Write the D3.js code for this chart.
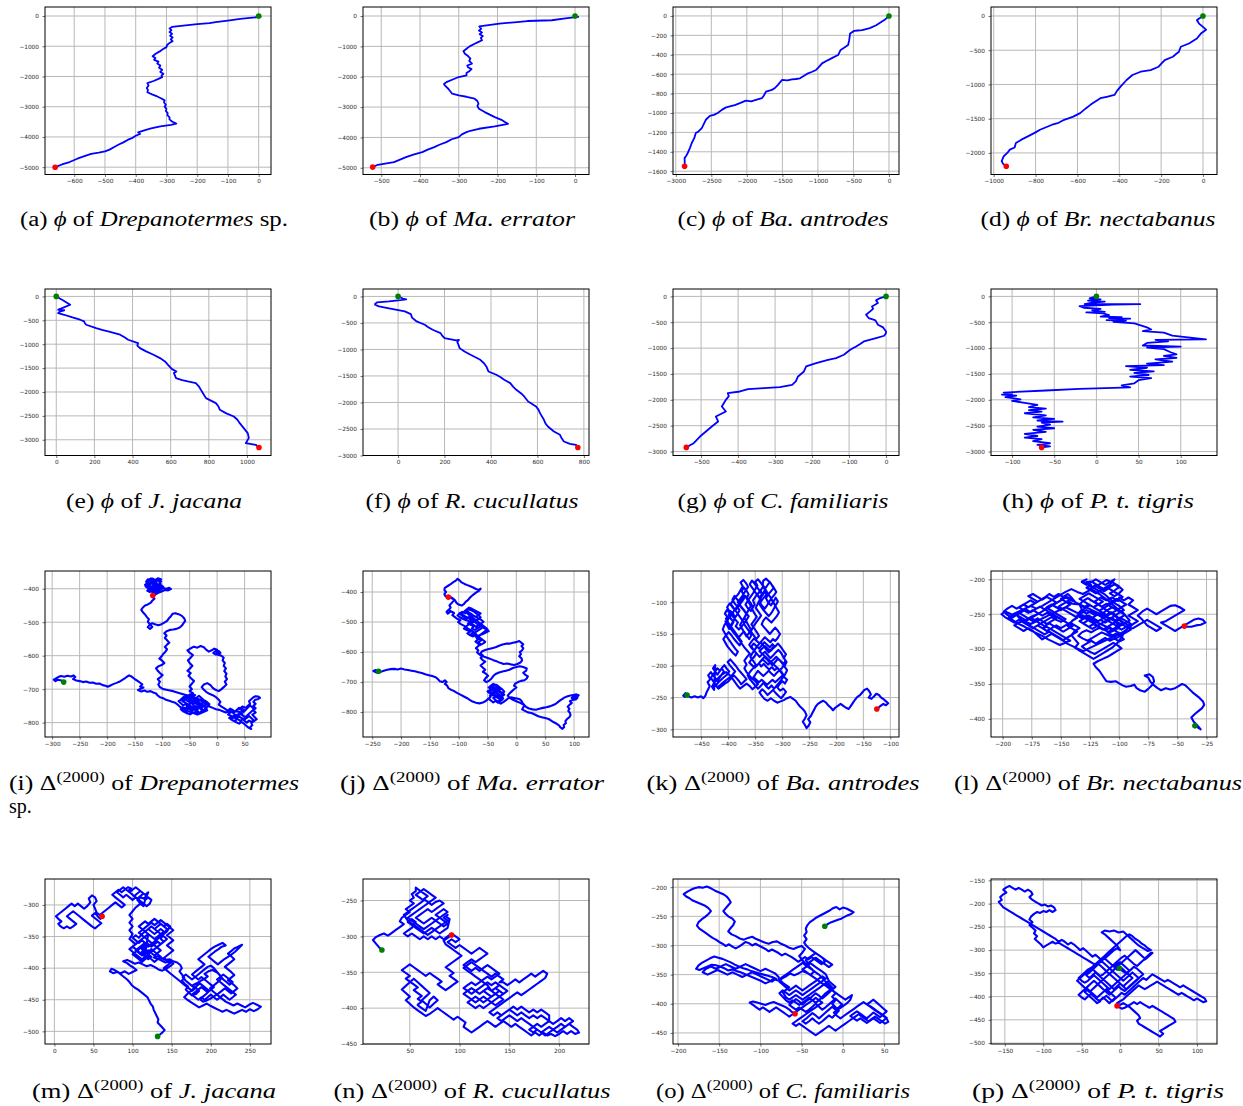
<!DOCTYPE html>
<html>
<head>
<meta charset="utf-8">
<script src="https://cdn.jsdelivr.net/npm/d3@7"></script>
<style>
  body { margin: 0; background: #fff; }
  svg { display: block; }
</style>
</head>
<body>
<svg id="fig" width="1243" height="1106"></svg>
<script>
// ---------------------------------------------------------------
// Trajectories: phi (cumulative walk) and Delta(2000) (windowed walk)
// for eight species. Each track is a list of [x, y] points.
// ---------------------------------------------------------------
const panelIds = ["a","b","c","d","e","f","g","h","i","j","k","l","m","n","o","p"];
const speciesNames = ["Drepanotermes", "Ma. errator", "Ba. antrodes", "Br. nectabanus",
                      "J. jacana", "R. cucullatus", "C. familiaris", "P. t. tigris"];
const speciesSuffix = [" sp.", "", "", "", "", "", "", ""];

// phi tracks
const trackA = [[0,0],[6,-25],[-20,-55],[-60,-95],[-100,-150],[-140,-200],[-160,-235],[-200,-270],[-245,-315],[-282,-360],[-290,-410],[-284,-470],[-290,-530],[-282,-590],[-288,-650],[-280,-710],[-286,-770],[-280,-830],[-290,-890],[-298,-960],[-300,-1030],[-312,-1100],[-322,-1170],[-335,-1250],[-345,-1330],[-336,-1390],[-340,-1450],[-326,-1510],[-330,-1570],[-320,-1640],[-324,-1710],[-314,-1780],[-320,-1850],[-310,-1910],[-316,-1970],[-314,-2020],[-326,-2080],[-342,-2150],[-362,-2220],[-358,-2300],[-364,-2380],[-360,-2450],[-362,-2520],[-345,-2600],[-330,-2660],[-318,-2720],[-306,-2790],[-308,-2860],[-302,-2930],[-306,-3000],[-300,-3070],[-302,-3140],[-296,-3210],[-297,-3280],[-290,-3350],[-290,-3420],[-282,-3490],[-268,-3560],[-285,-3600],[-320,-3650],[-350,-3720],[-372,-3780],[-392,-3850],[-386,-3900],[-400,-3960],[-410,-4030],[-425,-4090],[-440,-4180],[-455,-4250],[-470,-4330],[-485,-4420],[-500,-4480],[-520,-4520],[-545,-4560],[-562,-4620],[-590,-4720],[-615,-4830],[-640,-4910],[-662,-5000]];
const trackB = [[0,0],[8,-30],[-20,-70],[-60,-140],[-123,-165],[-150,-200],[-195,-250],[-247,-340],[-242,-420],[-248,-480],[-240,-540],[-246,-600],[-238,-660],[-243,-720],[-240,-800],[-250,-860],[-259,-912],[-272,-1000],[-280,-1077],[-288,-1160],[-284,-1242],[-276,-1320],[-270,-1406],[-273,-1480],[-266,-1571],[-278,-1630],[-276,-1690],[-267,-1750],[-272,-1810],[-280,-1880],[-280,-1956],[-300,-2010],[-311,-2066],[-332,-2176],[-338,-2240],[-336,-2286],[-327,-2396],[-322,-2480],[-317,-2560],[-300,-2615],[-280,-2660],[-259,-2725],[-252,-2800],[-249,-2890],[-252,-2960],[-248,-3055],[-233,-3165],[-220,-3250],[-207,-3330],[-190,-3420],[-181,-3495],[-173,-3550],[-207,-3637],[-248,-3714],[-270,-3780],[-280,-3824],[-292,-3900],[-300,-3989],[-318,-4060],[-332,-4154],[-350,-4240],[-363,-4319],[-380,-4400],[-394,-4484],[-415,-4560],[-436,-4648],[-450,-4720],[-467,-4813],[-490,-4860],[-509,-4901],[-522,-4978]];
const trackC = [[0,0],[-60,-40],[-180,-96],[-270,-125],[-378,-147],[-440,-150],[-490,-154],[-547,-181],[-560,-250],[-575,-300],[-632,-328],[-680,-350],[-716,-403],[-790,-430],[-857,-455],[-942,-489],[-990,-530],[-1026,-557],[-1080,-575],[-1139,-591],[-1200,-620],[-1252,-643],[-1310,-650],[-1365,-653],[-1430,-665],[-1506,-660],[-1562,-711],[-1600,-740],[-1647,-762],[-1731,-780],[-1760,-820],[-1788,-848],[-1872,-865],[-1940,-880],[-2013,-872],[-2098,-899],[-2170,-920],[-2239,-933],[-2300,-945],[-2352,-968],[-2410,-1000],[-2464,-1019],[-2520,-1029],[-2577,-1070],[-2610,-1120],[-2634,-1156],[-2680,-1190],[-2718,-1207],[-2740,-1260],[-2775,-1309],[-2800,-1360],[-2831,-1412],[-2860,-1450],[-2876,-1463],[-2874,-1510],[-2876,-1549]];
const trackD = [[0,0],[-20,-40],[-29,-63],[-19,-111],[0,-160],[15,-200],[-10,-257],[-29,-329],[-50,-370],[-67,-402],[-106,-450],[-115,-523],[-130,-560],[-144,-596],[-183,-644],[-200,-700],[-212,-741],[-250,-790],[-298,-814],[-337,-862],[-365,-935],[-394,-1031],[-410,-1090],[-423,-1153],[-460,-1180],[-490,-1201],[-520,-1260],[-538,-1298],[-560,-1350],[-587,-1419],[-620,-1470],[-663,-1516],[-690,-1560],[-721,-1588],[-779,-1661],[-800,-1700],[-837,-1758],[-870,-1810],[-894,-1855],[-900,-1920],[-923,-1952],[-935,-2000],[-952,-2048],[-962,-2120],[-955,-2160],[-940,-2194]];
const trackE = [[0,0],[35,-80],[73,-174],[40,-230],[10,-279],[42,-290],[18,-320],[10,-349],[42,-384],[85,-440],[125,-488],[146,-523],[150,-560],[157,-593],[209,-663],[240,-700],[272,-733],[335,-802],[360,-860],[377,-907],[429,-977],[425,-1030],[439,-1082],[471,-1151],[510,-1220],[544,-1291],[570,-1360],[586,-1431],[607,-1521],[630,-1570],[617,-1605],[628,-1710],[660,-1750],[690,-1780],[732,-1814],[745,-1870],[753,-1919],[770,-2030],[785,-2128],[837,-2233],[850,-2300],[858,-2373],[889,-2442],[931,-2512],[950,-2580],[962,-2652],[983,-2756],[1004,-2861],[1010,-2960],[994,-3070],[1046,-3105],[1063,-3161]];
const trackF = [[0,0],[20,-40],[35,-55],[10,-70],[-39,-94],[-91,-113],[-99,-140],[-99,-157],[-82,-189],[-50,-215],[-22,-239],[29,-283],[55,-333],[60,-400],[80,-472],[115,-535],[130,-580],[149,-629],[183,-692],[190,-740],[200,-786],[250,-830],[262,-820],[255,-860],[259,-900],[265,-975],[286,-1038],[312,-1101],[354,-1195],[370,-1260],[380,-1321],[389,-1415],[423,-1478],[440,-1520],[457,-1572],[483,-1635],[495,-1700],[509,-1761],[530,-1830],[543,-1887],[560,-1981],[594,-2075],[605,-2140],[611,-2201],[628,-2327],[635,-2400],[645,-2453],[671,-2547],[697,-2610],[705,-2680],[714,-2736],[740,-2780],[766,-2799],[774,-2849]];
const trackG = [[0,0],[-16,-32],[-27,-77],[-22,-129],[-38,-194],[-35,-240],[-43,-290],[-54,-355],[-47,-419],[-30,-460],[-27,-484],[-22,-548],[-8,-600],[-5,-632],[0,-680],[0,-710],[-5,-761],[-27,-806],[-60,-871],[-70,-920],[-81,-968],[-97,-1032],[-114,-1129],[-135,-1194],[-157,-1226],[-189,-1290],[-216,-1355],[-222,-1452],[-238,-1548],[-244,-1645],[-254,-1710],[-287,-1755],[-330,-1774],[-373,-1794],[-395,-1839],[-428,-1871],[-425,-1930],[-433,-2000],[-444,-2129],[-433,-2226],[-460,-2323],[-454,-2419],[-471,-2516],[-487,-2613],[-503,-2710],[-520,-2839],[-530,-2880],[-540,-2920]];
const trackH = [[0,0],[-8,-40],[5,-60],[-10,-80],[10,-100],[-5,-120],[-14,-150],[52,-150],[20,-160],[-20,-190],[-15,-220],[5,-240],[-5,-270],[10,-300],[-12,-310],[8,-330],[15,-360],[5,-390],[30,-400],[15,-420],[40,-430],[12,-460],[35,-470],[20,-490],[45,-520],[60,-600],[65,-640],[55,-670],[80,-700],[90,-760],[130,-830],[70,-840],[85,-870],[60,-900],[55,-950],[100,-970],[60,-990],[80,-1020],[88,-1080],[95,-1120],[80,-1150],[95,-1190],[70,-1220],[90,-1260],[60,-1300],[80,-1330],[35,-1350],[60,-1380],[40,-1420],[68,-1450],[45,-1480],[62,-1520],[40,-1550],[65,-1580],[50,-1620],[45,-1680],[30,-1720],[40,-1760],[-20,-1790],[-60,-1820],[-110,-1860],[-100,-1880],[-112,-1900],[-95,-1920],[-108,-1950],[-90,-1990],[-100,-2020],[-85,-2060],[-70,-2100],[-80,-2140],[-60,-2170],[-80,-2200],[-65,-2230],[-85,-2260],[-60,-2300],[-75,-2340],[-50,-2370],[-70,-2400],[-40,-2420],[-65,-2440],[-55,-2480],[-70,-2520],[-50,-2550],[-75,-2580],[-60,-2620],[-85,-2660],[-70,-2700],[-85,-2730],[-65,-2760],[-75,-2800],[-55,-2840],[-70,-2870],[-55,-2900],[-65,-2920]];

// Delta(2000) tracks
const trackI = [[-279,-679],[-283,-674],[-290,-672],[-294,-676],[-297,-672],[-293,-668],[-289,-664],[-284,-661],[-278,-663],[-272,-660],[-266,-662],[-261,-659],[-258,-664],[-262,-670],[-256,-674],[-250,-676],[-244,-679],[-238,-677],[-232,-681],[-226,-680],[-220,-684],[-214,-683],[-208,-688],[-203,-690],[-199,-693],[-194,-689],[-189,-685],[-184,-682],[-178,-678],[-173,-673],[-168,-668],[-164,-663],[-160,-659],[-156,-662],[-152,-667],[-148,-672],[-144,-676],[-140,-681],[-136,-686],[-140,-692],[-134,-695],[-139,-699],[-144,-703],[-138,-707],[-132,-704],[-127,-708],[-121,-706],[-116,-710],[-111,-713],[-108,-719],[-104,-724],[-98,-727],[-93,-732],[-87,-735],[-82,-738],[-76,-741],[-72,-746],[-68,-752],[-62,-758],[-57,-764],[-52,-758],[-47,-762],[-44,-770],[-49,-775],[-55,-772],[-60,-767],[-56,-760],[-50,-754],[-44,-750],[-39,-756],[-35,-762],[-40,-768],[-35,-773],[-30,-768],[-26,-762],[-30,-756],[-25,-750],[-20,-746],[-24,-740],[-30,-744],[-36,-740],[-42,-736],[-47,-742],[-53,-746],[-58,-740],[-63,-736],[-60,-730],[-54,-726],[-48,-730],[-43,-725],[-38,-728],[-33,-733],[-28,-730],[-23,-734],[-18,-739],[-14,-745],[-17,-752],[-22,-757],[-18,-763],[-24,-768],[-30,-772],[-36,-776],[-42,-772],[-38,-764],[-44,-758],[-50,-748],[-54,-752],[-58,-757],[-63,-754],[-66,-760],[-62,-766],[-57,-770],[-53,-765],[-48,-768],[-44,-763],[-40,-758],[-36,-766],[-32,-771],[-27,-767],[-23,-761],[-19,-757],[-22,-751],[-27,-746],[-31,-751],[-35,-746],[-39,-741],[-44,-745],[-49,-740],[-54,-735],[-58,-730],[-62,-736],[-66,-731],[-62,-725],[-57,-720],[-53,-725],[-49,-731],[-45,-736],[-41,-731],[-37,-725],[-33,-720],[-29,-726],[-25,-732],[-21,-737],[-17,-743],[-21,-748],[-26,-753],[-30,-759],[-35,-754],[-40,-750],[-45,-755],[-50,-760],[-54,-756],[-56,-744],[-62,-748],[-66,-742],[-70,-736],[-64,-730],[-58,-724],[-52,-718],[-46,-714],[-40,-718],[-46,-722],[-52,-730],[-46,-736],[-40,-742],[-34,-748],[-28,-752],[-32,-740],[-38,-734],[-44,-728],[-48,-720],[-44,-712],[-50,-706],[-46,-700],[-50,-692],[-46,-684],[-42,-676],[-47,-668],[-52,-660],[-48,-652],[-54,-645],[-49,-638],[-45,-630],[-50,-622],[-53,-614],[-48,-606],[-44,-598],[-50,-591],[-54,-584],[-48,-578],[-42,-573],[-36,-576],[-30,-571],[-24,-575],[-20,-582],[-15,-588],[-10,-584],[-5,-579],[0,-582],[-3,-588],[2,-592],[-2,-597],[-7,-592],[-3,-586],[3,-586],[6,-592],[2,-598],[8,-600],[12,-606],[10,-614],[14,-622],[12,-630],[16,-638],[13,-646],[17,-654],[15,-662],[18,-670],[14,-678],[17,-686],[12,-694],[8,-700],[3,-706],[-3,-702],[-8,-696],[-12,-688],[-18,-682],[-24,-686],[-28,-694],[-24,-702],[-20,-708],[-14,-714],[-8,-718],[-2,-724],[2,-730],[6,-738],[3,-746],[8,-752],[14,-758],[19,-764],[24,-770],[20,-776],[26,-780],[31,-786],[36,-790],[32,-796],[27,-792],[22,-786],[28,-782],[34,-778],[40,-774],[44,-768],[48,-762],[44,-756],[40,-760],[46,-752],[52,-756],[56,-750],[60,-744],[58,-736],[62,-730],[66,-724],[70,-721],[75,-722],[78,-726],[74,-730],[69,-732],[66,-738],[70,-744],[66,-750],[70,-757],[66,-763],[70,-770],[64,-776],[68,-783],[72,-790],[67,-796],[62,-800],[64,-808],[60,-814],[62,-819],[56,-814],[52,-808],[48,-802],[44,-798],[40,-803],[35,-799],[30,-794],[25,-790],[30,-784],[36,-786],[40,-782],[44,-786],[50,-790],[54,-786],[58,-780],[62,-786],[66,-792],[63,-798],[58,-794],[54,-800],[50,-795],[46,-790],[42,-795],[38,-790],[34,-784],[38,-778],[43,-774],[47,-779],[51,-784],[55,-778],[59,-772],[63,-766],[67,-760],[64,-754],[60,-749],[56,-755],[52,-762],[48,-768],[44,-762],[40,-756],[36,-762],[32,-768],[28,-762],[24,-758],[20,-763],[26,-767],[30,-773],[34,-779],[40,-776],[46,-774],[40,-768],[34,-766],[28,-770],[22,-766],[16,-770],[10,-766],[4,-762],[-2,-760],[-8,-756],[-14,-752],[-18,-746],[-24,-740],[-30,-734],[-36,-728],[-44,-724],[-52,-720],[-60,-716],[-68,-712],[-74,-709],[-80,-706],[-86,-704],[-92,-702],[-98,-700],[-104,-694],[-107,-686],[-104,-678],[-108,-670],[-103,-664],[-99,-658],[-104,-652],[-108,-645],[-111,-638],[-107,-632],[-101,-628],[-96,-622],[-100,-615],[-105,-609],[-101,-602],[-98,-595],[-94,-588],[-91,-581],[-95,-574],[-91,-567],[-87,-561],[-91,-554],[-95,-547],[-92,-540],[-96,-533],[-92,-527],[-86,-523],[-80,-522],[-74,-520],[-68,-516],[-64,-510],[-61,-503],[-58,-496],[-60,-488],[-64,-481],[-70,-476],[-76,-473],[-81,-475],[-84,-482],[-88,-489],[-91,-496],[-96,-501],[-101,-506],[-107,-509],[-113,-506],[-118,-503],[-123,-508],[-126,-515],[-122,-520],[-118,-514],[-122,-506],[-126,-499],[-124,-491],[-128,-484],[-131,-477],[-135,-470],[-138,-463],[-135,-456],[-131,-450],[-126,-447],[-121,-442],[-118,-436],[-114,-430],[-118,-424],[-114,-418],[-110,-412],[-118,-404],[-122,-410],[-127,-406],[-124,-399],[-129,-395],[-131,-388],[-127,-383],[-123,-389],[-119,-394],[-115,-389],[-118,-382],[-114,-377],[-110,-383],[-107,-390],[-103,-384],[-106,-378],[-102,-372],[-108,-369],[-113,-374],[-117,-370],[-121,-376],[-126,-372],[-129,-379],[-125,-385],[-121,-381],[-117,-386],[-112,-392],[-108,-398],[-113,-402],[-117,-397],[-122,-393],[-126,-398],[-122,-404],[-118,-410],[-113,-413],[-109,-407],[-104,-403],[-100,-397],[-104,-392],[-109,-387],[-113,-381],[-117,-377],[-121,-371],[-125,-377],[-128,-383],[-124,-390],[-120,-396],[-116,-401],[-112,-406],[-115,-407],[-120,-402],[-125,-398],[-130,-393],[-127,-386],[-129,-379],[-125,-373],[-120,-369],[-115,-372],[-110,-377],[-106,-373],[-102,-378],[-105,-385],[-109,-390],[-113,-386],[-118,-382],[-122,-387],[-126,-392],[-122,-398],[-116,-394],[-111,-398],[-106,-394],[-102,-389],[-98,-394],[-101,-401],[-106,-405],[-111,-402],[-116,-398],[-121,-392],[-124,-385],[-120,-378],[-116,-382],[-112,-388],[-108,-396],[-104,-400],[-98,-398],[-92,-400],[-87,-397],[-84,-401],[-89,-405],[-95,-404],[-101,-408],[-107,-412],[-112,-417],[-117,-420]];
const trackJ = [[-239,-664],[-244,-660],[-248,-663],[-244,-667],[-240,-670],[-235,-666],[-230,-662],[-224,-659],[-218,-657],[-212,-656],[-206,-658],[-200,-655],[-194,-658],[-188,-660],[-182,-662],[-176,-664],[-170,-667],[-164,-670],[-158,-674],[-152,-677],[-146,-680],[-140,-684],[-136,-690],[-133,-697],[-128,-700],[-124,-694],[-121,-700],[-124,-706],[-120,-712],[-118,-720],[-113,-726],[-108,-730],[-103,-736],[-97,-742],[-91,-748],[-86,-753],[-81,-759],[-76,-765],[-70,-769],[-64,-771],[-58,-768],[-53,-763],[-49,-756],[-45,-750],[-48,-756],[-44,-762],[-40,-768],[-36,-763],[-32,-769],[-28,-764],[-24,-758],[-28,-752],[-33,-747],[-38,-742],[-43,-736],[-47,-730],[-43,-724],[-38,-719],[-33,-724],[-29,-730],[-25,-736],[-21,-742],[-25,-748],[-30,-742],[-35,-736],[-40,-730],[-44,-724],[-48,-718],[-44,-712],[-40,-706],[-36,-712],[-32,-718],[-28,-724],[-32,-730],[-37,-735],[-42,-740],[-46,-746],[-41,-744],[-46,-738],[-50,-731],[-45,-725],[-40,-730],[-36,-736],[-31,-741],[-35,-748],[-40,-753],[-36,-760],[-31,-766],[-27,-760],[-23,-754],[-27,-747],[-23,-740],[-27,-733],[-32,-727],[-37,-721],[-42,-716],[-38,-710],[-33,-714],[-28,-719],[-24,-725],[-21,-732],[-25,-738],[-30,-733],[-35,-727],[-40,-722],[-45,-715],[-40,-707],[-34,-710],[-30,-716],[-34,-724],[-39,-732],[-43,-740],[-38,-746],[-33,-752],[-28,-758],[-32,-766],[-27,-772],[-22,-766],[-18,-760],[-14,-754],[-9,-751],[-4,-753],[1,-755],[6,-757],[9,-763],[11,-770],[14,-777],[17,-783],[22,-788],[28,-791],[34,-792],[40,-789],[46,-786],[52,-784],[58,-781],[63,-777],[68,-773],[72,-767],[76,-761],[80,-756],[84,-751],[89,-747],[94,-745],[99,-743],[104,-741],[108,-744],[105,-750],[100,-748],[96,-753],[101,-756],[106,-752],[103,-758],[97,-760],[93,-764],[96,-770],[92,-776],[89,-782],[92,-789],[90,-796],[93,-803],[94,-810],[92,-817],[88,-823],[85,-830],[86,-837],[82,-843],[83,-850],[80,-856],[76,-850],[74,-844],[70,-839],[65,-834],[61,-829],[56,-823],[50,-820],[44,-817],[38,-814],[32,-808],[26,-803],[20,-801],[15,-796],[10,-791],[12,-784],[14,-777],[9,-772],[4,-767],[-2,-762],[-7,-758],[-12,-752],[-15,-745],[-12,-738],[-8,-731],[-4,-724],[0,-718],[-4,-712],[-2,-705],[3,-700],[8,-696],[14,-694],[18,-688],[20,-681],[15,-675],[12,-669],[17,-662],[18,-655],[12,-650],[6,-647],[0,-650],[-6,-653],[-12,-659],[-18,-662],[-24,-665],[-30,-668],[-36,-673],[-40,-680],[-43,-688],[-47,-695],[-52,-700],[-56,-694],[-53,-686],[-49,-679],[-53,-672],[-58,-666],[-54,-659],[-58,-652],[-62,-645],[-58,-638],[-54,-632],[-59,-626],[-62,-619],[-58,-612],[-62,-605],[-60,-598],[-54,-593],[-48,-590],[-42,-587],[-36,-584],[-30,-579],[-24,-575],[-18,-572],[-12,-572],[-6,-569],[0,-567],[5,-563],[8,-568],[12,-574],[9,-580],[12,-587],[10,-594],[6,-600],[8,-607],[5,-614],[9,-621],[10,-628],[7,-635],[2,-640],[-4,-643],[-10,-641],[-16,-638],[-22,-640],[-28,-636],[-34,-631],[-40,-627],[-46,-622],[-52,-618],[-58,-614],[-64,-608],[-68,-601],[-66,-594],[-70,-587],[-66,-580],[-62,-574],[-66,-567],[-61,-561],[-65,-555],[-69,-550],[-73,-544],[-78,-539],[-74,-533],[-79,-527],[-84,-522],[-88,-516],[-84,-510],[-79,-505],[-74,-510],[-70,-516],[-66,-510],[-61,-505],[-57,-499],[-61,-493],[-66,-488],[-71,-482],[-76,-477],[-81,-482],[-86,-488],[-91,-483],[-95,-477],[-99,-471],[-94,-466],[-89,-471],[-84,-466],[-79,-472],[-75,-478],[-70,-483],[-66,-477],[-62,-471],[-67,-466],[-72,-461],[-77,-456],[-82,-452],[-86,-458],[-90,-464],[-86,-470],[-82,-476],[-78,-482],[-74,-488],[-70,-494],[-66,-500],[-62,-506],[-58,-512],[-54,-518],[-50,-524],[-54,-530],[-58,-536],[-62,-542],[-66,-548],[-62,-554],[-58,-560],[-54,-566],[-58,-572],[-63,-577],[-67,-571],[-71,-565],[-67,-559],[-70,-549],[-64,-544],[-58,-540],[-53,-535],[-48,-530],[-52,-524],[-57,-519],[-62,-514],[-67,-520],[-72,-526],[-77,-521],[-74,-514],[-79,-509],[-84,-505],[-80,-499],[-75,-494],[-80,-488],[-86,-484],[-91,-479],[-96,-474],[-92,-468],[-88,-462],[-83,-458],[-78,-461],[-73,-466],[-69,-472],[-65,-478],[-62,-485],[-66,-491],[-71,-496],[-76,-501],[-82,-497],[-88,-493],[-93,-489],[-98,-484],[-102,-478],[-98,-471],[-93,-476],[-88,-482],[-83,-488],[-78,-493],[-72,-500],[-68,-506],[-63,-511],[-58,-516],[-62,-523],[-68,-530],[-73,-536],[-69,-542],[-75,-548],[-80,-544],[-85,-538],[-80,-532],[-86,-527],[-91,-522],[-87,-516],[-92,-511],[-97,-506],[-101,-500],[-97,-494],[-103,-489],[-107,-483],[-111,-477],[-108,-470],[-113,-465],[-118,-460],[-121,-466],[-119,-472],[-115,-466],[-117,-459],[-114,-452],[-116,-445],[-113,-438],[-110,-432],[-107,-426],[-112,-421],[-118,-418],[-123,-414],[-125,-407],[-122,-400],[-125,-393],[-124,-386],[-119,-380],[-114,-374],[-110,-368],[-105,-362],[-102,-356],[-98,-362],[-95,-368],[-90,-373],[-85,-377],[-80,-381],[-75,-385],[-70,-390],[-65,-393],[-62,-389],[-65,-396],[-70,-402],[-74,-408],[-78,-414],[-81,-420],[-84,-427],[-88,-433],[-91,-440],[-95,-445],[-100,-442],[-104,-436],[-106,-429],[-109,-423],[-113,-418],[-118,-417]];
const trackK = [[-476,-246],[-480,-249],[-483,-247],[-479,-243],[-474,-248],[-468,-250],[-462,-248],[-456,-250],[-450,-248],[-446,-251],[-442,-247],[-440,-242],[-437,-237],[-434,-232],[-438,-226],[-433,-221],[-437,-215],[-432,-210],[-428,-215],[-424,-209],[-420,-204],[-415,-208],[-411,-203],[-407,-199],[-403,-204],[-398,-209],[-402,-214],[-408,-218],[-413,-222],[-418,-226],[-423,-231],[-418,-236],[-412,-232],[-406,-228],[-400,-225],[-395,-220],[-390,-215],[-385,-219],[-380,-224],[-376,-229],[-371,-225],[-366,-221],[-371,-216],[-376,-211],[-381,-206],[-386,-200],[-391,-195],[-396,-190],[-401,-194],[-397,-199],[-392,-204],[-387,-209],[-392,-214],[-397,-218],[-403,-222],[-409,-226],[-414,-230],[-420,-234],[-424,-229],[-428,-224],[-432,-219],[-428,-214],[-424,-219],[-420,-224],[-416,-219],[-412,-214],[-408,-209],[-412,-204],[-416,-209],[-420,-214],[-424,-209],[-428,-204],[-424,-199],[-426,-238],[-430,-233],[-426,-227],[-421,-222],[-416,-217],[-410,-213],[-404,-210],[-398,-214],[-393,-219],[-388,-225],[-383,-231],[-378,-236],[-372,-232],[-366,-228],[-360,-232],[-355,-237],[-350,-233],[-345,-229],[-350,-224],[-356,-220],[-361,-215],[-366,-210],[-370,-204],[-366,-198],[-370,-192],[-365,-186],[-360,-181],[-365,-176],[-370,-171],[-375,-165],[-380,-159],[-385,-153],[-390,-148],[-395,-142],[-400,-136],[-405,-130],[-402,-136],[-398,-142],[-394,-137],[-390,-131],[-395,-126],[-399,-120],[-396,-114],[-391,-118],[-387,-124],[-383,-119],[-379,-113],[-383,-107],[-388,-102],[-392,-96],[-388,-90],[-384,-95],[-379,-100],[-375,-95],[-371,-89],[-375,-83],[-371,-77],[-366,-82],[-362,-88],[-366,-94],[-362,-100],[-358,-106],[-362,-112],[-366,-118],[-370,-124],[-374,-130],[-378,-136],[-374,-142],[-370,-148],[-366,-154],[-362,-149],[-358,-143],[-362,-137],[-366,-131],[-370,-125],[-366,-119],[-371,-113],[-376,-108],[-380,-102],[-384,-108],[-389,-113],[-393,-119],[-398,-124],[-402,-130],[-407,-136],[-410,-143],[-406,-149],[-402,-155],[-397,-161],[-392,-167],[-387,-173],[-382,-178],[-386,-184],[-391,-180],[-396,-175],[-401,-170],[-405,-164],[-409,-158],[-404,-152],[-399,-147],[-394,-152],[-389,-158],[-384,-163],[-379,-168],[-375,-162],[-380,-156],[-385,-150],[-390,-144],[-395,-138],[-400,-132],[-404,-126],[-401,-124],[-406,-118],[-402,-112],[-397,-117],[-392,-122],[-387,-127],[-382,-132],[-386,-138],[-380,-143],[-375,-138],[-370,-133],[-375,-127],[-380,-121],[-385,-115],[-390,-109],[-395,-103],[-391,-97],[-386,-92],[-381,-87],[-377,-81],[-373,-75],[-377,-69],[-372,-65],[-367,-70],[-363,-76],[-368,-82],[-372,-88],[-377,-94],[-382,-100],[-377,-106],[-372,-111],[-367,-117],[-362,-122],[-366,-128],[-371,-134],[-366,-140],[-361,-146],[-357,-152],[-361,-158],[-366,-152],[-371,-146],[-376,-151],[-381,-156],[-386,-150],[-391,-144],[-396,-138],[-392,-132],[-388,-126],[-393,-120],[-398,-114],[-402,-108],[-397,-102],[-392,-108],[-387,-113],[-382,-108],[-377,-102],[-372,-96],[-368,-90],[-363,-96],[-358,-102],[-354,-108],[-358,-114],[-363,-110],[-368,-104],[-364,-98],[-359,-92],[-354,-86],[-350,-80],[-346,-74],[-350,-68],[-345,-64],[-340,-69],[-336,-74],[-331,-78],[-327,-73],[-323,-68],[-319,-73],[-315,-78],[-311,-84],[-315,-89],[-320,-94],[-324,-99],[-328,-105],[-332,-110],[-337,-106],[-341,-101],[-337,-96],[-333,-92],[-329,-88],[-333,-84],[-338,-88],[-342,-93],[-346,-88],[-342,-83],[-338,-79],[-343,-85],[-349,-91],[-354,-97],[-351,-104],[-356,-110],[-352,-117],[-347,-123],[-352,-129],[-357,-135],[-352,-141],[-347,-147],[-343,-153],[-348,-158],[-353,-152],[-358,-146],[-354,-139],[-349,-133],[-344,-127],[-339,-121],[-344,-115],[-349,-109],[-345,-102],[-340,-96],[-345,-90],[-350,-84],[-355,-78],[-360,-72],[-356,-66],[-351,-71],[-346,-77],[-341,-83],[-336,-89],[-332,-80],[-336,-72],[-335,-66],[-330,-63],[-325,-67],[-320,-72],[-316,-78],[-321,-83],[-326,-88],[-330,-94],[-326,-100],[-321,-105],[-316,-99],[-312,-93],[-308,-99],[-312,-105],[-316,-111],[-320,-117],[-325,-122],[-330,-117],[-335,-112],[-340,-106],[-344,-100],[-340,-94],[-336,-88],[-340,-82],[-336,-76],[-331,-80],[-327,-86],[-322,-92],[-318,-98],[-314,-104],[-310,-110],[-306,-116],[-310,-122],[-315,-127],[-320,-132],[-325,-128],[-330,-124],[-335,-129],[-338,-135],[-333,-140],[-328,-145],[-323,-150],[-318,-145],[-313,-140],[-308,-145],[-304,-150],[-308,-156],[-313,-161],[-317,-158],[-322,-163],[-327,-159],[-332,-155],[-337,-160],[-342,-165],[-347,-161],[-352,-157],[-357,-162],[-361,-167],[-357,-172],[-352,-176],[-348,-181],[-352,-186],[-357,-190],[-361,-195],[-356,-199],[-351,-203],[-346,-199],[-341,-194],[-336,-190],[-331,-194],[-326,-198],[-321,-194],[-316,-190],[-311,-186],[-306,-190],[-301,-194],[-296,-198],[-300,-203],[-305,-207],[-310,-211],[-315,-216],[-320,-212],[-325,-208],[-330,-212],[-335,-216],[-340,-212],[-345,-208],[-349,-213],[-353,-218],[-348,-222],[-343,-226],[-338,-222],[-333,-226],[-328,-230],[-323,-226],[-318,-222],[-313,-226],[-308,-222],[-303,-218],[-298,-214],[-302,-209],[-307,-205],[-312,-201],[-317,-197],[-322,-193],[-327,-189],[-332,-185],[-337,-181],[-342,-177],[-337,-173],[-332,-169],[-327,-173],[-322,-177],[-317,-173],[-312,-169],[-308,-165],[-303,-170],[-298,-176],[-293,-182],[-297,-188],[-292,-194],[-296,-201],[-291,-207],[-295,-214],[-300,-220],[-305,-226],[-310,-231],[-315,-236],[-320,-231],[-325,-236],[-330,-232],[-335,-227],[-340,-232],[-345,-236],[-350,-231],[-355,-226],[-360,-221],[-364,-215],[-359,-209],[-354,-204],[-349,-198],[-354,-192],[-359,-186],[-355,-180],[-350,-174],[-345,-168],[-340,-163],[-335,-168],[-330,-174],[-325,-179],[-320,-174],[-315,-169],[-318,-166],[-323,-171],[-328,-167],[-333,-163],[-338,-168],[-343,-173],[-348,-169],[-353,-165],[-357,-170],[-352,-176],[-347,-181],[-342,-186],[-337,-182],[-332,-178],[-327,-183],[-322,-188],[-317,-184],[-312,-179],[-307,-175],[-302,-180],[-298,-186],[-294,-192],[-298,-198],[-303,-193],[-308,-189],[-313,-194],[-318,-199],[-323,-195],[-328,-190],[-333,-186],[-338,-191],[-343,-196],[-339,-201],[-334,-197],[-329,-202],[-324,-206],[-319,-202],[-314,-207],[-309,-203],[-304,-208],[-300,-213],[-296,-218],[-291,-222],[-295,-228],[-300,-224],[-305,-229],[-309,-234],[-304,-239],[-298,-236],[-293,-241],[-297,-246],[-302,-251],[-307,-247],[-312,-243],[-317,-238],[-322,-242],[-327,-246],[-332,-241],[-337,-237],[-342,-242],[-338,-247],[-333,-252],[-327,-255],[-321,-251],[-315,-255],[-309,-258],[-303,-256],[-297,-254],[-291,-251],[-285,-249],[-280,-252],[-275,-255],[-271,-260],[-267,-264],[-262,-268],[-258,-272],[-255,-278],[-258,-283],[-262,-288],[-258,-293],[-255,-298],[-251,-294],[-248,-289],[-252,-284],[-247,-279],[-244,-274],[-241,-269],[-238,-264],[-234,-260],[-229,-257],[-224,-255],[-219,-258],[-215,-262],[-210,-266],[-206,-270],[-202,-266],[-197,-263],[-192,-260],[-187,-263],[-182,-266],[-177,-268],[-173,-263],[-169,-258],[-165,-253],[-161,-249],[-156,-246],[-152,-242],[-148,-238],[-143,-236],[-139,-240],[-136,-245],[-140,-250],[-135,-252],[-130,-248],[-126,-244],[-121,-246],[-117,-250],[-112,-253],[-108,-256],[-104,-259],[-108,-262],[-113,-260],[-118,-263],[-122,-266],[-125,-268]];
const trackL = [[-35,-410],[-32,-413],[-30,-415],[-33,-409],[-36,-404],[-38,-398],[-35,-393],[-32,-389],[-29,-385],[-27,-380],[-28,-375],[-31,-370],[-34,-366],[-37,-362],[-40,-357],[-43,-352],[-46,-350],[-49,-353],[-52,-356],[-56,-358],[-60,-356],[-64,-359],[-67,-356],[-70,-352],[-73,-347],[-75,-341],[-78,-338],[-74,-336],[-71,-340],[-70,-346],[-72,-352],[-75,-357],[-78,-361],[-82,-359],[-85,-356],[-87,-351],[-90,-353],[-94,-354],[-97,-352],[-100,-349],[-103,-346],[-107,-347],[-111,-346],[-113,-341],[-115,-336],[-117,-331],[-120,-326],[-122,-321],[-118,-317],[-114,-314],[-110,-311],[-106,-307],[-102,-303],[-98,-299],[-101,-295],[-105,-291],[-109,-295],[-113,-299],[-117,-303],[-121,-307],[-125,-304],[-129,-300],[-132,-296],[-128,-292],[-124,-288],[-120,-292],[-116,-288],[-112,-284],[-108,-288],[-104,-285],[-100,-289],[-96,-286],[-99,-281],[-103,-278],[-107,-282],[-111,-279],[-115,-276],[-119,-280],[-123,-284],[-127,-288],[-131,-285],[-135,-281],[-132,-276],[-128,-273],[-124,-276],[-120,-272],[-116,-269],[-112,-273],[-108,-276],[-104,-273],[-100,-277],[-97,-281],[-101,-290],[-106,-298],[-110,-302],[-114,-306],[-118,-310],[-122,-314],[-126,-310],[-130,-306],[-134,-302],[-138,-298],[-135,-292],[-138,-286],[-141,-280],[-138,-274],[-134,-270],[-138,-266],[-142,-262],[-146,-266],[-150,-270],[-154,-266],[-158,-270],[-162,-274],[-166,-270],[-170,-266],[-174,-270],[-178,-266],[-182,-262],[-186,-258],[-190,-262],[-194,-258],[-198,-254],[-201,-250],[-198,-246],[-194,-249],[-190,-252],[-186,-248],[-182,-252],[-178,-256],[-174,-260],[-170,-256],[-166,-260],[-162,-264],[-158,-260],[-154,-256],[-158,-252],[-162,-248],[-166,-252],[-170,-248],[-174,-244],[-178,-248],[-182,-244],[-186,-240],[-182,-236],[-178,-240],[-174,-236],[-170,-232],[-174,-228],[-178,-224],[-174,-221],[-170,-225],[-166,-229],[-162,-225],[-158,-229],[-154,-233],[-158,-237],[-162,-241],[-158,-245],[-154,-249],[-150,-253],[-146,-257],[-150,-261],[-154,-258],[-158,-254],[-162,-258],[-166,-262],[-170,-266],[-166,-270],[-162,-268],[-158,-272],[-154,-276],[-150,-280],[-146,-284],[-142,-288],[-146,-290],[-150,-286],[-154,-282],[-158,-278],[-162,-282],[-166,-286],[-170,-280],[-174,-274],[-178,-270],[-182,-274],[-186,-270],[-190,-266],[-186,-262],[-180,-258],[-176,-254],[-170,-250],[-166,-246],[-162,-240],[-158,-236],[-154,-240],[-150,-244],[-146,-240],[-142,-236],[-146,-232],[-150,-228],[-146,-224],[-142,-228],[-138,-232],[-141,-226],[-144,-221],[-148,-225],[-152,-221],[-156,-225],[-160,-221],[-164,-226],[-168,-230],[-172,-234],[-176,-230],[-180,-234],[-184,-238],[-188,-242],[-192,-238],[-196,-242],[-199,-246],[-196,-251],[-192,-255],[-188,-251],[-184,-255],[-180,-259],[-176,-255],[-172,-259],[-168,-263],[-164,-267],[-160,-263],[-156,-267],[-152,-271],[-148,-275],[-144,-271],[-140,-267],[-144,-263],[-148,-259],[-152,-255],[-156,-251],[-160,-247],[-164,-243],[-168,-239],[-172,-243],[-176,-247],[-180,-243],[-184,-247],[-188,-251],[-184,-259],[-180,-263],[-176,-267],[-172,-271],[-168,-275],[-164,-279],[-160,-275],[-156,-279],[-152,-283],[-148,-287],[-144,-283],[-140,-279],[-136,-275],[-140,-271],[-144,-267],[-140,-259],[-136,-255],[-140,-251],[-144,-247],[-148,-243],[-152,-239],[-148,-235],[-144,-231],[-140,-235],[-134,-236],[-131,-231],[-127,-227],[-123,-231],[-119,-235],[-115,-239],[-111,-235],[-107,-239],[-103,-243],[-99,-247],[-95,-251],[-99,-255],[-103,-259],[-107,-255],[-111,-259],[-115,-263],[-119,-267],[-123,-271],[-127,-267],[-131,-263],[-127,-259],[-123,-255],[-119,-251],[-115,-247],[-111,-251],[-107,-247],[-103,-251],[-99,-259],[-95,-263],[-91,-259],[-94,-253],[-97,-247],[-101,-243],[-105,-237],[-109,-231],[-113,-226],[-117,-221],[-121,-217],[-125,-213],[-121,-209],[-117,-213],[-113,-217],[-109,-213],[-105,-217],[-101,-221],[-97,-225],[-101,-229],[-105,-233],[-109,-237],[-113,-241],[-117,-245],[-121,-241],[-125,-237],[-129,-241],[-132,-245],[-128,-249],[-124,-245],[-120,-249],[-116,-253],[-112,-257],[-108,-261],[-104,-265],[-100,-269],[-104,-273],[-108,-269],[-112,-273],[-116,-269],[-120,-265],[-124,-261],[-128,-257],[-132,-253],[-135,-249],[-132,-243],[-134,-236],[-130,-240],[-126,-236],[-130,-232],[-134,-228],[-130,-224],[-126,-220],[-122,-224],[-118,-228],[-114,-232],[-118,-236],[-122,-240],[-118,-244],[-114,-248],[-110,-244],[-106,-240],[-110,-236],[-106,-232],[-102,-228],[-98,-232],[-94,-236],[-98,-240],[-102,-244],[-106,-248],[-110,-252],[-114,-256],[-118,-260],[-122,-256],[-126,-252],[-130,-256],[-134,-260],[-130,-264],[-126,-268],[-122,-264],[-118,-268],[-114,-272],[-110,-268],[-106,-264],[-102,-260],[-98,-256],[-94,-260],[-90,-264],[-94,-268],[-98,-272],[-102,-268],[-106,-272],[-110,-276],[-106,-280],[-102,-284],[-98,-280],[-94,-276],[-90,-272],[-92,-266],[-96,-262],[-100,-266],[-104,-260],[-108,-256],[-112,-252],[-116,-248],[-120,-252],[-124,-248],[-128,-244],[-132,-248],[-136,-252],[-132,-256],[-128,-252],[-124,-258],[-120,-262],[-116,-258],[-112,-262],[-108,-258],[-104,-252],[-100,-248],[-96,-244],[-100,-238],[-104,-234],[-108,-228],[-112,-222],[-116,-218],[-120,-214],[-124,-210],[-128,-206],[-132,-203],[-128,-200],[-132,-204],[-128,-208],[-124,-204],[-120,-200],[-116,-204],[-112,-208],[-108,-204],[-104,-200],[-108,-208],[-112,-212],[-116,-216],[-120,-220],[-124,-216],[-128,-212],[-124,-208],[-128,-204],[-124,-203],[-120,-207],[-116,-211],[-112,-215],[-108,-211],[-104,-207],[-100,-211],[-104,-216],[-108,-220],[-104,-224],[-100,-220],[-97,-215],[-101,-209],[-106,-204],[-111,-201],[-116,-206],[-121,-211],[-126,-216],[-131,-221],[-136,-218],[-141,-214],[-146,-218],[-151,-223],[-156,-228],[-161,-233],[-166,-238],[-171,-242],[-176,-238],[-181,-242],[-186,-246],[-191,-250],[-195,-255],[-191,-259],[-186,-264],[-181,-268],[-176,-273],[-171,-277],[-166,-281],[-161,-286],[-156,-290],[-151,-294],[-146,-291],[-141,-295],[-136,-299],[-131,-303],[-126,-299],[-121,-295],[-116,-291],[-111,-287],[-106,-283],[-101,-279],[-96,-275],[-92,-270],[-96,-266],[-101,-262],[-106,-258],[-111,-254],[-116,-250],[-121,-246],[-126,-242],[-131,-238],[-136,-234],[-141,-230],[-146,-226],[-151,-231],[-156,-236],[-161,-241],[-166,-246],[-171,-251],[-176,-256],[-181,-260],[-176,-264],[-171,-260],[-166,-256],[-161,-252],[-156,-248],[-151,-244],[-146,-240],[-141,-244],[-136,-248],[-131,-252],[-126,-256],[-121,-260],[-116,-264],[-111,-268],[-106,-272],[-101,-268],[-96,-264],[-101,-256],[-106,-250],[-111,-244],[-116,-238],[-121,-232],[-116,-226],[-111,-230],[-106,-226],[-101,-231],[-100,-226],[-96,-230],[-92,-226],[-88,-230],[-92,-236],[-88,-240],[-84,-244],[-88,-248],[-92,-252],[-88,-256],[-84,-260],[-88,-264],[-92,-270],[-88,-270],[-84,-266],[-80,-262],[-76,-258],[-72,-262],[-68,-266],[-64,-270],[-68,-274],[-72,-270],[-76,-266],[-80,-258],[-84,-252],[-80,-246],[-76,-242],[-72,-246],[-68,-250],[-64,-246],[-60,-242],[-56,-238],[-52,-237],[-48,-240],[-44,-244],[-48,-248],[-52,-252],[-56,-256],[-60,-260],[-64,-262],[-60,-266],[-56,-270],[-52,-274],[-48,-270],[-44,-266],[-40,-262],[-36,-258],[-32,-256],[-28,-258],[-26,-262],[-30,-265],[-34,-266],[-38,-268],[-41,-268],[-44,-267]];
const trackM = [[132,-508],[135,-505],[138,-502],[141,-498],[138,-494],[135,-490],[132,-486],[133,-481],[131,-476],[129,-471],[127,-466],[126,-461],[123,-456],[121,-451],[119,-446],[115,-442],[111,-438],[107,-434],[103,-431],[99,-427],[96,-422],[93,-418],[89,-414],[85,-410],[81,-406],[77,-403],[73,-401],[71,-405],[75,-408],[80,-406],[85,-408],[90,-405],[95,-409],[100,-406],[105,-403],[101,-399],[97,-396],[93,-392],[88,-389],[93,-387],[98,-390],[103,-393],[108,-391],[113,-394],[118,-397],[123,-395],[128,-398],[133,-402],[138,-404],[143,-401],[148,-397],[152,-393],[147,-389],[142,-391],[137,-388],[132,-385],[127,-383],[132,-381],[137,-384],[142,-387],[147,-386],[152,-389],[157,-391],[161,-395],[163,-400],[160,-405],[163,-410],[166,-415],[163,-420],[167,-425],[171,-429],[168,-434],[172,-439],[176,-443],[181,-441],[185,-436],[181,-431],[177,-427],[182,-424],[187,-420],[192,-417],[196,-413],[192,-409],[197,-405],[202,-403],[207,-406],[211,-410],[214,-415],[211,-420],[207,-424],[203,-428],[199,-432],[203,-437],[207,-441],[211,-445],[215,-449],[219,-453],[224,-456],[229,-459],[234,-456],[239,-459],[244,-462],[249,-458],[254,-455],[259,-458],[264,-461],[260,-465],[255,-468],[250,-465],[245,-469],[240,-466],[235,-469],[230,-472],[225,-469],[220,-466],[215,-469],[210,-466],[205,-463],[200,-460],[195,-456],[190,-459],[185,-462],[180,-458],[175,-454],[170,-450],[166,-446],[170,-441],[174,-437],[178,-432],[182,-428],[186,-424],[190,-428],[194,-432],[198,-436],[194,-441],[190,-445],[186,-449],[190,-453],[195,-451],[200,-448],[205,-444],[210,-440],[214,-436],[218,-432],[222,-436],[226,-440],[230,-436],[234,-432],[230,-427],[226,-423],[222,-419],[226,-415],[230,-411],[226,-406],[222,-402],[218,-398],[222,-394],[226,-390],[230,-386],[226,-381],[222,-377],[226,-373],[230,-369],[235,-366],[240,-363],[236,-368],[231,-374],[227,-378],[222,-382],[217,-386],[213,-390],[209,-394],[205,-390],[201,-386],[197,-382],[201,-378],[205,-374],[210,-370],[214,-366],[219,-364],[215,-360],[210,-363],[205,-366],[200,-370],[196,-374],[192,-378],[188,-382],[184,-386],[188,-390],[192,-394],[188,-398],[184,-402],[180,-406],[176,-410],[180,-414],[184,-418],[188,-414],[192,-418],[196,-422],[200,-426],[204,-430],[200,-434],[196,-438],[192,-434],[188,-430],[184,-434],[180,-438],[176,-442],[180,-446],[184,-450],[188,-446],[192,-450],[196,-446],[200,-442],[204,-446],[208,-450],[212,-446],[216,-442],[220,-446],[224,-450],[228,-446],[232,-442],[228,-438],[224,-434],[220,-430],[216,-426],[212,-422],[208,-418],[212,-414],[216,-410],[220,-414],[224,-418],[228,-422],[224,-426],[220,-422],[216,-418],[212,-412],[208,-406],[204,-400],[200,-396],[196,-398],[192,-402],[188,-406],[184,-410],[180,-414],[176,-418],[172,-414],[168,-410],[164,-414],[168,-420],[172,-424],[176,-428],[180,-432],[176,-436],[172,-432],[168,-428],[164,-424],[160,-420],[156,-416],[152,-412],[148,-408],[144,-404],[140,-400],[144,-396],[148,-392],[144,-388],[140,-384],[144,-380],[148,-376],[152,-372],[148,-368],[144,-364],[148,-360],[152,-356],[148,-352],[144,-348],[148,-344],[152,-340],[148,-336],[144,-332],[140,-328],[136,-324],[132,-328],[128,-332],[124,-328],[120,-332],[116,-336],[112,-340],[108,-344],[112,-348],[116,-352],[120,-356],[124,-360],[128,-364],[132,-368],[136,-372],[132,-376],[128,-380],[124,-376],[120,-372],[116,-376],[112,-380],[108,-376],[104,-372],[108,-368],[112,-364],[116,-360],[112,-356],[108,-360],[104,-356],[100,-352],[104,-348],[108,-352],[112,-346],[116,-342],[120,-346],[116,-350],[112,-354],[108,-358],[104,-362],[100,-366],[104,-370],[108,-374],[112,-378],[116,-382],[120,-378],[124,-374],[128,-370],[132,-366],[136,-362],[140,-358],[144,-354],[140,-350],[136,-346],[132,-342],[128,-338],[124,-334],[120,-338],[116,-342],[112,-338],[108,-334],[112,-330],[116,-326],[120,-330],[124,-326],[128,-322],[132,-326],[136,-330],[140,-334],[144,-330],[148,-334],[144,-342],[140,-346],[136,-350],[132,-354],[128,-358],[124,-362],[120,-366],[116,-362],[112,-366],[108,-370],[104,-374],[100,-378],[104,-382],[108,-386],[112,-390],[116,-386],[120,-382],[124,-386],[128,-390],[132,-386],[136,-382],[132,-378],[128,-374],[124,-370],[120,-374],[116,-370],[112,-374],[116,-378],[120,-346],[124,-350],[128,-354],[132,-350],[136,-346],[140,-342],[136,-338],[132,-342],[128,-346],[124,-342],[120,-338],[124,-334],[128,-338],[132,-334],[136,-330],[140,-334],[144,-338],[140,-346],[136,-354],[140,-358],[136,-362],[132,-358],[128,-362],[124,-366],[120,-362],[116,-366],[112,-370],[116,-374],[120,-378],[124,-382],[120,-386],[116,-382],[112,-386],[108,-382],[104,-378],[100,-374],[96,-370],[100,-366],[104,-362],[100,-358],[96,-354],[100,-346],[96,-340],[100,-334],[96,-328],[100,-322],[96,-316],[100,-310],[104,-304],[108,-300],[112,-296],[108,-292],[104,-288],[100,-292],[96,-288],[92,-284],[88,-288],[84,-284],[80,-280],[84,-276],[88,-272],[92,-276],[96,-280],[100,-276],[104,-272],[108,-276],[112,-280],[116,-284],[120,-280],[118,-286],[114,-290],[110,-288],[106,-292],[110,-298],[114,-302],[116,-292],[120,-288],[124,-292],[122,-298],[118,-302],[114,-298],[110,-294],[106,-290],[110,-286],[114,-282],[110,-278],[106,-282],[102,-286],[98,-282],[94,-278],[98,-274],[94,-272],[90,-276],[86,-280],[82,-276],[78,-280],[74,-284],[78,-288],[82,-292],[86,-296],[90,-300],[86,-304],[82,-300],[78,-296],[74,-300],[70,-304],[66,-308],[62,-312],[58,-316],[54,-312],[52,-306],[50,-300],[54,-294],[52,-288],[48,-285],[44,-290],[46,-296],[42,-302],[38,-306],[34,-302],[30,-298],[26,-302],[22,-298],[18,-302],[14,-306],[10,-310],[6,-314],[2,-318],[5,-322],[9,-326],[5,-330],[8,-334],[12,-337],[16,-334],[20,-337],[24,-334],[28,-330],[24,-326],[20,-322],[16,-318],[20,-314],[24,-310],[28,-314],[32,-318],[36,-322],[40,-326],[44,-330],[48,-334],[52,-337],[56,-333],[60,-329],[56,-325],[52,-321],[48,-317],[52,-313],[56,-319],[59,-322],[61,-318]];
const trackN = [[22,-319],[19,-315],[16,-310],[13,-305],[16,-301],[20,-298],[24,-296],[28,-299],[32,-295],[36,-291],[40,-287],[44,-283],[40,-279],[42,-274],[46,-270],[50,-266],[46,-262],[50,-258],[54,-254],[50,-250],[54,-246],[52,-241],[56,-237],[56,-232],[60,-236],[64,-240],[68,-244],[64,-248],[68,-252],[72,-256],[76,-252],[80,-250],[84,-254],[80,-258],[76,-262],[72,-266],[68,-262],[64,-266],[60,-270],[56,-274],[60,-278],[64,-282],[68,-278],[72,-274],[76,-278],[80,-282],[84,-286],[88,-282],[84,-278],[80,-274],[76,-270],[80,-266],[84,-262],[88,-266],[84,-270],[80,-274],[76,-278],[72,-282],[68,-286],[64,-290],[60,-286],[56,-282],[52,-278],[48,-274],[52,-270],[56,-266],[60,-262],[64,-258],[68,-254],[72,-250],[76,-246],[72,-242],[68,-238],[64,-234],[60,-238],[56,-242],[60,-246],[64,-250],[60,-254],[56,-258],[52,-262],[48,-266],[44,-270],[48,-278],[52,-282],[56,-286],[60,-290],[64,-294],[68,-298],[72,-294],[76,-290],[80,-286],[84,-282],[88,-278],[84,-274],[88,-270],[86,-272],[90,-276],[88,-288],[84,-292],[80,-296],[76,-292],[72,-288],[68,-292],[64,-296],[60,-292],[56,-288],[52,-284],[48,-280],[52,-276],[56,-280],[52,-288],[48,-292],[44,-296],[48,-300],[52,-296],[56,-300],[60,-304],[64,-300],[68,-304],[72,-300],[76,-304],[80,-300],[84,-304],[88,-300],[92,-296],[96,-300],[100,-304],[96,-308],[92,-304],[88,-308],[92,-312],[96,-316],[100,-312],[104,-316],[108,-320],[112,-324],[116,-320],[120,-316],[124,-320],[128,-324],[124,-328],[120,-332],[116,-336],[112,-332],[108,-336],[104,-340],[108,-344],[112,-348],[116,-344],[120,-348],[124,-344],[128,-340],[132,-344],[136,-348],[140,-352],[136,-356],[132,-360],[128,-356],[124,-360],[120,-364],[116,-368],[112,-364],[108,-368],[104,-372],[108,-376],[112,-380],[116,-376],[120,-380],[124,-376],[128,-372],[132,-376],[136,-380],[132,-384],[128,-388],[124,-384],[120,-388],[116,-392],[112,-388],[108,-392],[112,-396],[116,-400],[120,-396],[124,-400],[128,-396],[132,-392],[136,-388],[140,-384],[144,-380],[140,-376],[136,-372],[140,-368],[136,-364],[132,-368],[128,-364],[124,-368],[120,-372],[116,-376],[112,-372],[108,-376],[104,-380],[108,-384],[112,-388],[116,-384],[120,-388],[124,-392],[128,-388],[132,-392],[136,-396],[140,-392],[144,-388],[140,-384],[136,-380],[132,-384],[128,-380],[124,-376],[128,-372],[132,-376],[136,-372],[140,-368],[144,-372],[148,-376],[144,-380],[140,-376],[136,-380],[132,-376],[128,-368],[124,-364],[120,-360],[116,-356],[112,-352],[108,-348],[104,-344],[108,-340],[112,-336],[116,-340],[120,-344],[124,-348],[128,-352],[132,-356],[136,-352],[140,-356],[144,-360],[140,-364],[144,-364],[148,-368],[152,-364],[156,-360],[160,-364],[164,-360],[168,-356],[172,-352],[176,-356],[180,-352],[184,-348],[188,-352],[186,-358],[182,-362],[178,-366],[174,-370],[170,-374],[166,-378],[162,-382],[158,-378],[154,-382],[150,-386],[146,-390],[142,-394],[138,-398],[134,-402],[130,-406],[134,-410],[138,-406],[142,-410],[146,-406],[150,-402],[154,-406],[158,-410],[162,-406],[166,-410],[170,-414],[174,-410],[178,-414],[182,-410],[186,-414],[190,-418],[194,-422],[198,-418],[202,-414],[206,-418],[210,-414],[214,-418],[210,-422],[206,-426],[202,-430],[198,-434],[194,-430],[190,-434],[186,-438],[182,-434],[178,-430],[174,-426],[170,-422],[166,-418],[162,-414],[158,-418],[154,-414],[150,-410],[146,-414],[142,-418],[138,-414],[142,-410],[146,-406],[150,-402],[154,-398],[158,-402],[162,-398],[166,-402],[170,-406],[174,-402],[178,-406],[182,-402],[186,-406],[190,-410],[190,-418],[186,-422],[182,-426],[178,-422],[174,-426],[170,-430],[174,-434],[178,-430],[182,-434],[186,-430],[190,-426],[194,-430],[198,-426],[202,-422],[206,-426],[210,-422],[214,-426],[218,-430],[220,-434],[216,-436],[212,-432],[208,-436],[204,-432],[200,-436],[196,-439],[192,-436],[188,-438],[184,-434],[180,-438],[176,-434],[172,-438],[168,-434],[164,-430],[160,-426],[156,-422],[152,-426],[148,-422],[144,-418],[140,-422],[136,-426],[132,-422],[128,-418],[124,-422],[120,-426],[116,-430],[112,-434],[108,-430],[104,-426],[106,-420],[102,-416],[98,-412],[94,-416],[90,-412],[86,-408],[82,-404],[78,-400],[74,-404],[70,-408],[66,-411],[62,-407],[58,-403],[54,-399],[50,-394],[46,-389],[50,-384],[46,-379],[42,-374],[46,-369],[50,-364],[54,-359],[58,-364],[62,-369],[66,-374],[70,-379],[66,-384],[62,-389],[66,-394],[70,-399],[74,-394],[78,-389],[74,-384],[70,-389],[66,-404],[62,-400],[58,-396],[58,-395],[62,-391],[58,-387],[62,-383],[58,-379],[54,-375],[58,-371],[54,-367],[50,-363],[46,-359],[50,-355],[46,-351],[42,-347],[46,-343],[50,-339],[54,-343],[58,-347],[62,-351],[66,-355],[70,-351],[74,-355],[78,-359],[82,-363],[78,-367],[82,-371],[86,-375],[90,-371],[94,-367],[98,-363],[94,-359],[90,-355],[94,-351],[90,-347],[86,-343],[90,-339],[94,-335],[98,-331],[102,-327],[98,-323],[94,-319],[90,-315],[86,-311],[84,-306],[88,-302],[92,-298]];
const trackO = [[-22,-267],[-18,-263],[-14,-260],[-10,-258],[-6,-256],[-2,-254],[2,-251],[6,-248],[10,-246],[13,-243],[9,-240],[5,-237],[0,-235],[-4,-238],[-8,-234],[-12,-236],[-16,-240],[-20,-243],[-24,-246],[-28,-249],[-32,-252],[-36,-256],[-40,-260],[-43,-265],[-45,-271],[-44,-277],[-47,-283],[-44,-289],[-47,-295],[-44,-301],[-40,-306],[-36,-310],[-32,-314],[-28,-318],[-24,-322],[-22,-328],[-26,-332],[-30,-328],[-34,-324],[-38,-320],[-42,-324],[-46,-320],[-50,-324],[-54,-328],[-58,-324],[-62,-320],[-66,-317],[-70,-314],[-74,-317],[-78,-313],[-82,-310],[-86,-307],[-90,-310],[-94,-306],[-98,-303],[-102,-300],[-106,-297],[-110,-300],[-114,-296],[-118,-294],[-122,-298],[-126,-302],[-130,-305],[-134,-302],[-138,-298],[-142,-301],[-146,-297],[-150,-294],[-154,-290],[-158,-287],[-162,-283],[-166,-279],[-170,-275],[-174,-271],[-177,-266],[-175,-260],[-171,-255],[-167,-251],[-163,-246],[-160,-241],[-163,-236],[-167,-232],[-172,-229],[-177,-226],[-182,-223],[-186,-219],[-190,-216],[-193,-212],[-189,-208],[-185,-205],[-180,-202],[-175,-200],[-170,-201],[-165,-199],[-160,-202],[-155,-206],[-150,-209],[-145,-212],[-141,-216],[-138,-221],[-136,-226],[-139,-231],[-142,-236],[-145,-241],[-142,-246],[-139,-250],[-134,-254],[-131,-259],[-133,-265],[-136,-270],[-139,-276],[-135,-281],[-130,-284],[-125,-288],[-120,-290],[-115,-287],[-110,-285],[-105,-289],[-100,-292],[-95,-295],[-90,-297],[-85,-294],[-80,-293],[-75,-297],[-70,-300],[-65,-304],[-60,-306],[-55,-303],[-50,-301],[-46,-306],[-49,-312],[-53,-318],[-50,-324],[-46,-330],[-42,-335],[-38,-340],[-35,-345],[-39,-350],[-44,-347],[-49,-344],[-54,-348],[-59,-351],[-64,-348],[-69,-353],[-74,-357],[-79,-360],[-84,-357],[-89,-362],[-94,-365],[-99,-361],[-104,-358],[-109,-355],[-114,-352],[-119,-349],[-124,-346],[-129,-344],[-134,-341],[-139,-343],[-144,-339],[-149,-336],[-154,-334],[-159,-333],[-164,-336],[-169,-339],[-174,-342],[-178,-340],[-175,-334],[-171,-330],[-166,-326],[-161,-322],[-156,-319],[-151,-321],[-146,-323],[-141,-326],[-136,-329],[-131,-333],[-126,-336],[-121,-339],[-116,-341],[-111,-344],[-106,-346],[-101,-348],[-96,-350],[-91,-352],[-86,-354],[-81,-357],[-86,-362],[-92,-358],[-98,-354],[-104,-350],[-110,-346],[-116,-350],[-122,-354],[-128,-350],[-134,-346],[-140,-350],[-146,-346],[-152,-342],[-158,-346],[-164,-350],[-170,-346],[-166,-340],[-160,-336],[-154,-340],[-148,-336],[-142,-332],[-136,-336],[-130,-340],[-124,-336],[-118,-332],[-112,-336],[-106,-340],[-100,-344],[-94,-340],[-88,-344],[-82,-348],[-78,-354],[-77,-362],[-73,-367],[-69,-372],[-65,-377],[-61,-373],[-57,-369],[-53,-373],[-49,-377],[-45,-373],[-41,-369],[-37,-365],[-33,-361],[-29,-357],[-25,-353],[-21,-357],[-25,-361],[-29,-365],[-33,-369],[-37,-373],[-41,-377],[-45,-381],[-49,-385],[-53,-381],[-57,-377],[-61,-381],[-65,-385],[-69,-381],[-73,-377],[-77,-382],[-73,-388],[-69,-394],[-65,-398],[-61,-394],[-57,-398],[-53,-402],[-49,-398],[-45,-394],[-41,-390],[-37,-394],[-33,-398],[-29,-394],[-25,-388],[-21,-382],[-17,-378],[-13,-372],[-17,-366],[-21,-362],[-25,-356],[-29,-350],[-33,-346],[-37,-342],[-41,-338],[-45,-334],[-49,-330],[-53,-334],[-57,-338],[-61,-342],[-65,-346],[-69,-350],[-73,-354],[-77,-358],[-73,-364],[-69,-368],[-65,-372],[-69,-376],[-73,-380],[-69,-389],[-65,-393],[-61,-389],[-57,-385],[-53,-389],[-49,-393],[-45,-389],[-41,-385],[-37,-381],[-33,-377],[-29,-373],[-25,-369],[-21,-365],[-17,-361],[-13,-366],[-9,-371],[-13,-376],[-17,-381],[-21,-386],[-25,-391],[-29,-386],[-33,-382],[-37,-387],[-41,-392],[-45,-396],[-49,-401],[-53,-396],[-57,-392],[-61,-397],[-65,-402],[-61,-406],[-57,-410],[-53,-406],[-49,-410],[-45,-414],[-41,-410],[-37,-405],[-33,-400],[-29,-405],[-25,-410],[-21,-406],[-17,-401],[-13,-396],[-9,-391],[-5,-396],[-1,-401],[-5,-406],[-9,-410],[-13,-405],[-17,-410],[-21,-415],[-25,-420],[-29,-425],[-33,-420],[-37,-416],[-41,-421],[-45,-426],[-49,-430],[-45,-434],[-41,-430],[-37,-425],[-33,-430],[-29,-434],[-25,-430],[-21,-425],[-17,-420],[-13,-424],[-9,-418],[-5,-412],[-9,-406],[-13,-400],[-9,-394],[-13,-388],[-9,-382],[-13,-376],[-17,-370],[-21,-365],[-17,-361],[-21,-349],[-25,-345],[-29,-341],[-33,-337],[-37,-333],[-41,-329],[-37,-325],[-33,-321],[-29,-325],[-25,-329],[-21,-333],[-17,-337],[-13,-333],[-17,-329],[-21,-325],[-25,-321],[-29,-317],[-33,-313],[-37,-317],[-41,-321],[-45,-325],[-41,-333],[-45,-337],[-49,-341],[-45,-345],[-41,-349],[-37,-353],[-33,-357],[-29,-361],[-25,-365],[-21,-369],[-17,-373],[-13,-377],[-9,-381],[-5,-385],[-1,-389],[3,-393],[7,-389],[11,-385],[9,-393],[5,-399],[1,-403],[-3,-407],[-7,-411],[-11,-415],[-7,-421],[-3,-425],[1,-421],[5,-417],[9,-413],[13,-409],[17,-405],[21,-401],[25,-397],[29,-401],[33,-397],[37,-393],[41,-398],[45,-403],[49,-408],[53,-413],[49,-418],[45,-423],[41,-419],[37,-415],[33,-420],[29,-425],[25,-421],[21,-417],[17,-413],[13,-417],[9,-421],[13,-425],[17,-429],[21,-425],[25,-429],[29,-433],[33,-429],[37,-425],[41,-429],[45,-433],[49,-429],[53,-424],[49,-420],[45,-416],[41,-412],[37,-408],[33,-404],[29,-401],[33,-405],[37,-409],[41,-413],[45,-417],[49,-421],[53,-425],[55,-431],[51,-434],[47,-430],[43,-426],[39,-422],[35,-426],[31,-430],[27,-426],[23,-422],[19,-418],[15,-422],[11,-426],[7,-430],[3,-434],[-1,-438],[-5,-442],[-9,-446],[-13,-442],[-17,-438],[-21,-442],[-25,-446],[-29,-450],[-33,-454],[-37,-450],[-41,-446],[-45,-442],[-49,-438],[-53,-434],[-57,-438],[-61,-434],[-57,-430],[-53,-426],[-49,-422],[-45,-418],[-41,-414],[-37,-410],[-33,-406],[-29,-402],[-25,-398],[-29,-394],[-33,-390],[-37,-394],[-41,-398],[-45,-402],[-49,-406],[-53,-410],[-57,-414],[-61,-418],[-65,-422],[-69,-418],[-73,-414],[-77,-410],[-81,-406],[-85,-410],[-89,-414],[-93,-410],[-97,-406],[-101,-410],[-105,-406],[-109,-402],[-113,-398],[-109,-396],[-104,-398],[-99,-400],[-94,-402],[-89,-399],[-84,-397],[-79,-400],[-74,-403],[-69,-406],[-65,-410],[-62,-414],[-58,-417]];
const trackP = [[-1,-339],[3,-345],[8,-350],[12,-344],[8,-338],[4,-332],[0,-326],[-4,-330],[-8,-336],[-12,-330],[-16,-324],[-20,-318],[-24,-322],[-28,-316],[-32,-310],[-36,-314],[-40,-308],[-44,-302],[-48,-296],[-52,-300],[-56,-294],[-60,-288],[-64,-284],[-68,-288],[-72,-282],[-76,-278],[-80,-282],[-84,-276],[-88,-272],[-92,-268],[-96,-264],[-100,-260],[-104,-256],[-108,-252],[-112,-248],[-116,-244],[-120,-240],[-124,-236],[-128,-232],[-132,-228],[-136,-224],[-140,-220],[-144,-216],[-148,-212],[-152,-208],[-155,-202],[-158,-196],[-154,-192],[-156,-186],[-152,-180],[-148,-176],[-152,-170],[-148,-165],[-144,-162],[-140,-166],[-136,-170],[-132,-166],[-128,-170],[-124,-174],[-120,-170],[-116,-174],[-114,-180],[-118,-186],[-114,-192],[-110,-196],[-106,-200],[-102,-204],[-98,-202],[-94,-206],[-90,-204],[-86,-208],[-84,-214],[-88,-218],[-92,-214],[-96,-218],[-100,-216],[-104,-220],[-108,-218],[-112,-222],[-116,-228],[-118,-234],[-114,-240],[-118,-246],[-114,-252],[-110,-258],[-112,-264],[-108,-270],[-111,-276],[-107,-282],[-103,-288],[-100,-294],[-96,-290],[-92,-286],[-88,-282],[-84,-286],[-80,-284],[-76,-288],[-72,-292],[-68,-296],[-64,-300],[-60,-304],[-56,-308],[-52,-312],[-48,-316],[-44,-320],[-40,-324],[-36,-328],[-32,-332],[-28,-328],[-24,-324],[-20,-330],[-16,-336],[-12,-342],[-8,-348],[-4,-354],[0,-360],[4,-366],[8,-360],[12,-354],[16,-348],[20,-354],[24,-360],[20,-366],[16,-372],[12,-378],[8,-384],[4,-378],[0,-372],[-4,-378],[-8,-384],[-12,-378],[-16,-372],[-20,-366],[-24,-360],[-28,-354],[-32,-348],[-36,-354],[-40,-360],[-44,-354],[-40,-348],[-36,-342],[-32,-336],[-28,-330],[-24,-336],[-20,-342],[-16,-348],[-12,-354],[-8,-360],[-4,-366],[0,-372],[4,-378],[8,-372],[12,-366],[16,-360],[12,-354],[8,-348],[4,-342],[0,-336],[-4,-342],[-8,-336],[-12,-330],[-16,-324],[-20,-318],[-16,-312],[-12,-306],[-8,-300],[-4,-296],[0,-300],[-4,-290],[-8,-284],[-12,-278],[-16,-272],[-20,-266],[-24,-262],[-20,-258],[-14,-260],[-8,-258],[-2,-262],[4,-260],[8,-266],[12,-272],[16,-278],[20,-284],[24,-290],[28,-294],[32,-298],[36,-302],[40,-300],[36,-296],[32,-290],[28,-286],[24,-280],[20,-276],[16,-270],[12,-266],[8,-270],[4,-276],[0,-282],[-4,-288],[-8,-294],[-12,-300],[-16,-306],[-20,-312],[-24,-318],[-28,-324],[-32,-330],[-36,-336],[-40,-342],[-44,-348],[-48,-354],[-52,-360],[-56,-366],[-52,-372],[-48,-378],[-44,-384],[-40,-390],[-36,-384],[-32,-378],[-28,-372],[-24,-366],[-20,-360],[-16,-354],[-12,-348],[-8,-342],[-4,-336],[0,-330],[4,-324],[8,-318],[12,-312],[16,-306],[20,-300],[24,-306],[28,-312],[32,-318],[36,-312],[40,-306],[42,-306],[38,-312],[34,-318],[30,-322],[26,-328],[22,-334],[18,-330],[14,-324],[10,-318],[6,-312],[2,-316],[-2,-322],[-6,-328],[-10,-334],[-14,-340],[-18,-346],[-22,-352],[-26,-356],[-30,-350],[-34,-344],[-38,-338],[-42,-342],[-46,-348],[-50,-354],[-54,-360],[-50,-366],[-46,-370],[-42,-366],[-38,-360],[-34,-354],[-30,-360],[-26,-366],[-22,-372],[-18,-378],[-14,-384],[-10,-378],[-6,-372],[-2,-366],[2,-360],[6,-354],[10,-348],[14,-342],[18,-336],[22,-340],[26,-346],[30,-352],[26,-358],[22,-364],[18,-370],[14,-376],[10,-382],[6,-388],[2,-384],[-2,-378],[-6,-384],[-10,-390],[-14,-396],[-18,-390],[-22,-384],[-26,-378],[-30,-372],[-34,-366],[-38,-372],[-42,-378],[-46,-384],[-50,-390],[-54,-396],[-50,-402],[-46,-406],[-42,-400],[-38,-394],[-34,-400],[-30,-406],[-26,-410],[-30,-414],[-34,-408],[-38,-402],[-42,-396],[-46,-390],[-42,-384],[-38,-390],[-34,-396],[-30,-402],[-26,-396],[-22,-390],[-18,-384],[-14,-390],[-10,-396],[-6,-402],[-10,-408],[-14,-414],[-18,-408],[-22,-402],[-26,-408],[-22,-404],[-18,-398],[-14,-404],[-10,-410],[-6,-404],[-2,-398],[2,-392],[6,-396],[10,-390],[14,-384],[18,-378],[22,-372],[26,-366],[30,-360],[34,-364],[38,-358],[42,-352],[46,-356],[50,-360],[54,-364],[58,-368],[62,-364],[66,-368],[70,-372],[74,-376],[78,-380],[82,-376],[86,-380],[90,-384],[94,-388],[98,-392],[102,-396],[106,-400],[110,-404],[112,-410],[108,-412],[104,-408],[100,-404],[96,-408],[92,-404],[88,-400],[84,-396],[80,-392],[76,-396],[72,-392],[68,-388],[64,-384],[60,-380],[56,-376],[52,-372],[48,-368],[44,-372],[40,-376],[36,-380],[32,-384],[28,-380],[24,-376],[20,-382],[16,-388],[12,-394],[8,-400],[4,-406],[0,-410],[-4,-414],[0,-418],[4,-414],[8,-418],[12,-422],[16,-428],[20,-434],[24,-440],[26,-446],[22,-452],[24,-458],[28,-462],[32,-466],[36,-470],[40,-474],[44,-478],[48,-482],[52,-486],[56,-480],[52,-474],[56,-470],[60,-466],[64,-462],[68,-458],[72,-454],[70,-448],[66,-444],[62,-440],[58,-436],[54,-432],[50,-428],[46,-424],[42,-420],[38,-424],[34,-420],[30,-416],[26,-412],[22,-416],[18,-412],[14,-416],[10,-420],[6,-424],[2,-426],[-2,-422],[-4,-420]];

// Tick values per panel
const xTicksA = [-600,-500,-400,-300,-200,-100,0],  yTicksA = [0,-1000,-2000,-3000,-4000,-5000];
const xTicksB = [-500,-400,-300,-200,-100,0],       yTicksB = [0,-1000,-2000,-3000,-4000,-5000];
const xTicksC = [-3000,-2500,-2000,-1500,-1000,-500,0], yTicksC = [0,-200,-400,-600,-800,-1000,-1200,-1400,-1600];
const xTicksD = [-1000,-800,-600,-400,-200,0],      yTicksD = [0,-500,-1000,-1500,-2000];
const xTicksE = [0,200,400,600,800,1000],           yTicksE = [0,-500,-1000,-1500,-2000,-2500,-3000];
const xTicksF = [0,200,400,600,800],                yTicksF = [0,-500,-1000,-1500,-2000,-2500,-3000];
const xTicksG = [-500,-400,-300,-200,-100,0],       yTicksG = [0,-500,-1000,-1500,-2000,-2500,-3000];
const xTicksH = [-100,-50,0,50,100],                yTicksH = [0,-500,-1000,-1500,-2000,-2500,-3000];
const xTicksI = [-300,-250,-200,-150,-100,-50,0,50], yTicksI = [-400,-500,-600,-700,-800];
const xTicksJ = [-250,-200,-150,-100,-50,0,50,100],  yTicksJ = [-400,-500,-600,-700,-800];
const xTicksK = [-450,-400,-350,-300,-250,-200,-150,-100], yTicksK = [-100,-150,-200,-250,-300];
const xTicksL = [-200,-175,-150,-125,-100,-75,-50,-25],    yTicksL = [-200,-250,-300,-350,-400];
const xTicksM = [0,50,100,150,200,250],             yTicksM = [-300,-350,-400,-450,-500];
const xTicksN = [50,100,150,200],                   yTicksN = [-250,-300,-350,-400,-450];
const xTicksO = [-200,-150,-100,-50,0,50],          yTicksO = [-200,-250,-300,-350,-400,-450];
const xTicksP = [-150,-100,-50,0,50,100],           yTicksP = [-150,-200,-250,-300,-350,-400,-450,-500];

// Axis limits per panel
const xLims = [[-695,40],[-547,36],[-3039,141],[-1013,67],[-59,1126],[-151,822],[-576,35],[-125,143],
               [-313,98],[-266,126],[-502,-84],[-210,-16],[-12,277],[3,230],[-206,68],[-168,126]];
const yLims = [[-5242,298],[-5221,297],[-1634,92],[-2315,131],[-3329,155],[-3000,140],[-3077,143],[-3077,143],
               [-843,-347],[-883,-330],[-312,-51],[-426,-188],[-520,-259],[-450,-220],[-469,-186],[-502,-147]];

const tracks = [trackA,trackB,trackC,trackD,trackE,trackF,trackG,trackH,
                trackI,trackJ,trackK,trackL,trackM,trackN,trackO,trackP];
const xTicks = [xTicksA,xTicksB,xTicksC,xTicksD,xTicksE,xTicksF,xTicksG,xTicksH,
                xTicksI,xTicksJ,xTicksK,xTicksL,xTicksM,xTicksN,xTicksO,xTicksP];
const yTicks = [yTicksA,yTicksB,yTicksC,yTicksD,yTicksE,yTicksF,yTicksG,yTicksH,
                yTicksI,yTicksJ,yTicksK,yTicksL,yTicksM,yTicksN,yTicksO,yTicksP];

// ---------------------------------------------------------------
// Layout
// ---------------------------------------------------------------
const colLeft = [45, 363, 673, 991];
const panelWidth = 226;
const rowTop = [7, 289, 571, 879];
const rowHeight = [167.5, 166.5, 166, 165];
const captionCenter = [154, 472, 783, 1098];
const captionBaseline = [226, 508, 790, 1098];
const captionWidths = [268, 206, 211, 235, 176, 213, 211, 192,
                       290, 264, 273, 288, 244, 277, 254, 252];

const gridColor = "#b8b8b8";
const captionFont = "'Liberation Serif', 'DejaVu Serif', serif";
const fmt = d => d < 0 ? "\u2212" + Math.abs(d) : String(d);

const svg = d3.select("#fig");

tracks.forEach((track, i) => {
  const col = i % 4, row = Math.floor(i / 4);
  const L = colLeft[col], T = rowTop[row], W = panelWidth, H = rowHeight[row];
  const isPhi = i < 8;

  const x = d3.scaleLinear().domain(xLims[i]).range([L, L + W]);
  const y = d3.scaleLinear().domain(yLims[i]).range([T + H, T]);

  const g = svg.append("g").attr("class", "panel-" + panelIds[i]);
  const clipId = "clip-" + panelIds[i];
  g.append("clipPath").attr("id", clipId)
    .append("rect").attr("x", L).attr("y", T).attr("width", W).attr("height", H);

  // grid
  g.append("g").selectAll("line").data(xTicks[i]).join("line")
    .attr("x1", d => x(d)).attr("x2", d => x(d)).attr("y1", T).attr("y2", T + H)
    .attr("stroke", gridColor).attr("stroke-width", 1);
  g.append("g").selectAll("line").data(yTicks[i]).join("line")
    .attr("y1", d => y(d)).attr("y2", d => y(d)).attr("x1", L).attr("x2", L + W)
    .attr("stroke", gridColor).attr("stroke-width", 1);

  // axes
  const ax = g.append("g").attr("transform", `translate(0,${T + H})`)
    .call(d3.axisBottom(x).tickValues(xTicks[i]).tickFormat(fmt).tickSize(2.5).tickPadding(2.2));
  const ay = g.append("g").attr("transform", `translate(${L},0)`)
    .call(d3.axisLeft(y).tickValues(yTicks[i]).tickFormat(fmt).tickSize(2.5).tickPadding(3.5));
  [ax, ay].forEach(a => {
    a.select(".domain").remove();
    a.attr("font-size", 5.8).attr("font-family", "'DejaVu Sans', sans-serif");
    a.selectAll("line").attr("stroke", "#333").attr("stroke-width", 0.7);
    a.selectAll("text").attr("fill", "#2a2a2a");
  });

  // trajectory (dense windowed walks drawn a little heavier)
  const line = d3.line().x(d => x(d[0])).y(d => y(d[1]));
  g.append("path").datum(track)
    .attr("clip-path", `url(#${clipId})`)
    .attr("fill", "none").attr("stroke", "#0000ff")
    .attr("stroke-width", isPhi ? 1.8 : 2.1)
    .attr("stroke-linejoin", "round")
    .attr("stroke-linecap", "round")
    .attr("d", line);

  // start (green) and end (red) points
  const first = track[0], last = track[track.length - 1];
  g.append("circle").attr("cx", x(first[0])).attr("cy", y(first[1])).attr("r", 2.8).attr("fill", "#008000");
  g.append("circle").attr("cx", x(last[0])).attr("cy", y(last[1])).attr("r", 2.8).attr("fill", "#ff0000");

  // frame
  g.append("rect").attr("x", L).attr("y", T).attr("width", W).attr("height", H)
    .attr("fill", "none").attr("stroke", "#000").attr("stroke-width", 1);

  // caption
  const s = i % 8;
  const wrap = (i === 8);  // long caption breaks onto a second line
  const cap = svg.append("text")
    .attr("font-family", captionFont).attr("font-size", 20).attr("fill", "#000")
    .attr("y", captionBaseline[row]);
  if (wrap) {
    cap.attr("x", captionCenter[col] - captionWidths[i] / 2).attr("text-anchor", "start");
  } else {
    cap.attr("x", captionCenter[col]).attr("text-anchor", "middle");
  }
  cap.attr("textLength", captionWidths[i]).attr("lengthAdjust", "spacingAndGlyphs");
  cap.append("tspan").text(`(${panelIds[i]}) `);
  if (isPhi) {
    cap.append("tspan").attr("font-style", "italic").text("\u03D5");
    cap.append("tspan").text(" of ");
  } else {
    cap.append("tspan").text("\u0394");
    cap.append("tspan").attr("font-size", 14).attr("dy", -8).text("(2000)");
    cap.append("tspan").attr("dy", 8).text(" of ");
  }
  cap.append("tspan").attr("font-style", "italic").text(speciesNames[s]);
  if (speciesSuffix[s] && !wrap) cap.append("tspan").text(speciesSuffix[s]);
  if (wrap) {
    svg.append("text")
      .attr("font-family", captionFont).attr("font-size", 20).attr("fill", "#000")
      .attr("x", captionCenter[col] - captionWidths[i] / 2).attr("y", captionBaseline[row] + 23)
      .text(speciesSuffix[s].trim());
  }
});
</script>
</body>
</html>
